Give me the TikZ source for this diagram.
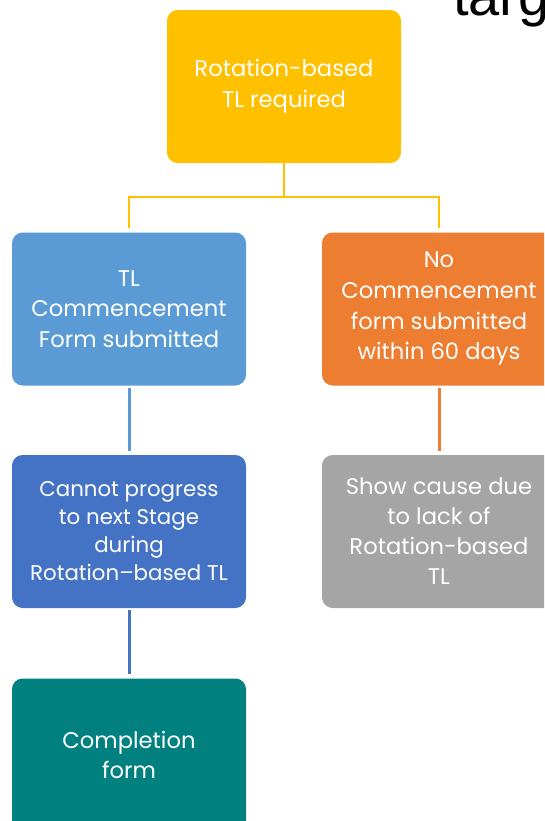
\documentclass[tikz,border=0pt]{standalone}
\usepackage{fontspec}
\setmainfont{Poppins}
\newfontfamily\arialf{Liberation Sans}
\definecolor{cyellow}{HTML}{FFC000}
\definecolor{cblue}{HTML}{5B9BD5}
\definecolor{corange}{HTML}{ED7D31}
\definecolor{cdblue}{HTML}{4472C4}
\definecolor{cgray}{HTML}{A5A5A5}
\definecolor{cteal}{HTML}{00807F}
\begin{document}
\begin{tikzpicture}[x=0.75pt,y=-0.75pt,
  box/.style={rectangle, rounded corners=8pt, minimum width=175.5pt, minimum height=114.75pt,
    inner sep=0pt, align=center, text=white, font=\fontsize{17}{23}\selectfont},
  conn/.style={line width=2.25pt, shorten >=3pt}]
\useasboundingbox (0,0) rectangle (544,821);
\clip (0,0) rectangle (544,821);
\fill[white] (0,0) rectangle (544,821);
\node[anchor=base west, inner sep=0pt, font=\arialf\fontsize{42}{42}\selectfont] (tg) at (453,15) {targ};
\node[box, fill=cyellow] (top) at (284,86.5) {Rotation-based\\TL required};
\node[box, fill=cblue] (l1) at (129,309) {TL\\Commencement\\Form submitted};
\node[box, fill=corange] (r1) at (439,309) {No\\Commencement\\form submitted\\within 60 days};
\node[box, fill=cdblue, font=\fontsize{16}{21}\selectfont] (l2) at (129,531.5) {Cannot progress\\to next Stage\\during\\Rotation\textendash based TL};
\node[box, fill=cgray, font=\fontsize{17}{22.5}\selectfont] (r2) at (439,531.5) {Show cause due\\to lack of\\Rotation-based\\TL};
\node[box, fill=cteal] (l3) at (129,755) {Completion\\form};
\coordinate (j) at (284,197);
\draw[conn, cyellow, line width=1.6pt] (top.south) -- (j) -| (l1.north);
\draw[conn, cyellow, line width=1.6pt] (j) -| (r1.north);
\draw[conn, cblue, shorten <=1.5pt] (l1.south) -- (l2.north);
\draw[conn, corange, shorten <=1.5pt] (r1.south) -- (r2.north);
\draw[conn, cdblue, shorten <=1.5pt] (l2.south) -- (l3.north);
\end{tikzpicture}
\end{document}
